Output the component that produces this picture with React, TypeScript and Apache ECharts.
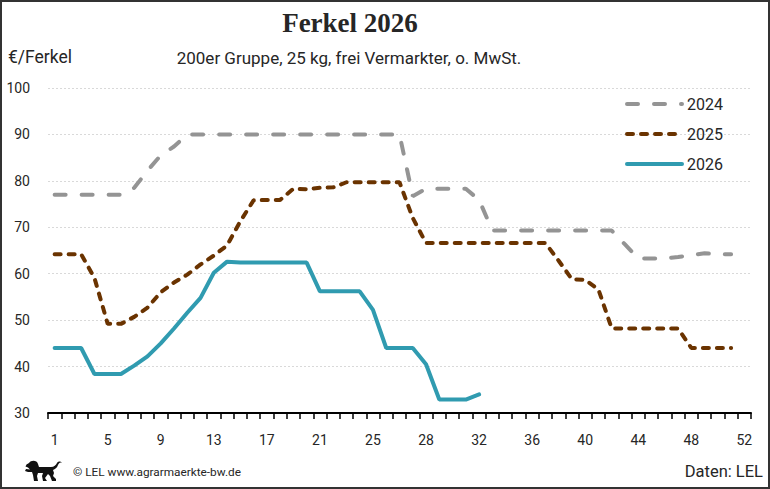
import React, { useEffect, useRef } from 'react';
import * as echarts from 'echarts';

// Categories (53 week slots on the axis)
const weeks = [
  '1','2','3','4','5','6','7','8','9','10','11','12','13','14','15','16','17','18','19','20',
  '21','22','23','24','25','26','27','28','29','30','31','32','33','34','35','36','37','38','39','40',
  '41','42','43','44','45','46','47','48','49','50','51','52','53'
];
// Tick labels shown every 4th slot
const tickLabels = ['1','5','9','13','17','21','25','28','32','36','40','44','48','52'];

const s2024 = [
  77.0, 77.0, 77.0, 77.0, 77.0, 77.0, 78.5, 82.2, 85.5, 87.4,
  90.0, 90.0, 90.0, 90.0, 90.0, 90.0, 90.0, 90.0, 90.0, 90.0,
  90.0, 90.0, 90.0, 90.0, 90.0, 90.0, 90.0, 76.7, 78.3, 78.3,
  78.3, 78.3, 75.9, 69.3, 69.3, 69.3, 69.3, 69.3, 69.3, 69.3,
  69.3, 69.3, 69.3, 66.3, 63.3, 63.3, 63.3, 63.6, 64.0, 64.4,
  64.2, 64.2
];
const s2025 = [
  64.2, 64.2, 64.2, 59.1, 49.2, 49.2, 50.7, 52.7, 56.0, 58.1,
  59.8, 62.0, 63.9, 66.1, 71.3, 75.8, 75.9, 75.9, 78.3, 78.2,
  78.5, 78.6, 79.7, 79.7, 79.7, 79.7, 79.7, 72.0, 66.6, 66.6,
  66.6, 66.6, 66.6, 66.6, 66.6, 66.6, 66.6, 66.6, 62.8, 58.8,
  58.7, 56.6, 48.2, 48.2, 48.2, 48.2, 48.2, 48.2, 44.0, 44.0,
  44.0, 44.0
];
const s2026 = [
  44.0, 44.0, 44.0, 38.4, 38.4, 38.4, 40.2, 42.2, 45.0, 48.2,
  51.6, 54.8, 60.2, 62.6, 62.4, 62.4, 62.4, 62.4, 62.4, 62.4,
  56.2, 56.2, 56.2, 56.2, 52.2, 44.0, 44.0, 44.0, 40.5, 32.9,
  32.9, 32.9, 34.0
];

const seriesNames = ['2024', '2025', '2026'];

const lionPath =
  'M 8 4 C 12 -2 24 -2 26 6 L 28 12 L 52 12 C 58 12 62 8 64 4 C 66 0 72 0 74 4 ' +
  'C 70 2 68 4 66 8 C 64 14 60 16 56 18 L 58 24 L 56 30 L 62 36 L 62 40 L 54 40 ' +
  'L 50 30 L 46 26 L 40 34 L 44 40 L 36 40 L 34 30 L 36 24 L 26 24 L 24 30 L 26 40 ' +
  'L 18 40 L 16 28 L 14 22 L 6 22 L 0 20 L 2 16 L 10 17 L 6 13 L 1 11 L 3 7 Z';

let registered = false;

export default function App() {
  const ref = useRef<HTMLDivElement>(null);

  useEffect(() => {
    document.body.style.margin = '0';
    if (!registered) {
      echarts.graphic.registerShape('logo', echarts.graphic.extendPath(lionPath, {}));
      registered = true;
    }
    const chart = echarts.init(ref.current as HTMLDivElement, null, { renderer: 'svg' });
    const sans = 'Roboto';
    const textColor = '#262626';
    chart.setOption({
      animation: false,
      backgroundColor: '#ffffff',
      grid: { left: 48, right: 19, top: 88, bottom: 76, containLabel: false },
      legend: {
        orient: 'vertical',
        left: 625,
        top: 96,
        padding: 0,
        itemWidth: 55,
        itemHeight: 14,
        itemGap: 14,
        data: seriesNames,
        itemStyle: { color: 'rgba(0,0,0,0)', borderWidth: 0, opacity: 0 },
        lineStyle: { width: 4 },
        textStyle: { fontSize: 16, fontFamily: sans, color: textColor },
      },
      xAxis: {
        type: 'category',
        data: weeks,
        boundaryGap: true,
        axisLine: { show: true, lineStyle: { color: '#000000', width: 2 } },
        axisTick: { show: true, interval: 0, length: 6, lineStyle: { color: '#000000', width: 1.5 } },
        axisLabel: {
          interval: (index: number) => index % 4 === 0,
          formatter: (_v: string, index: number) => tickLabels[Math.round(index / 4)] ?? '',
          margin: 20,
          fontSize: 14,
          fontFamily: sans,
          color: textColor,
        },
        splitLine: { show: false },
      },
      yAxis: {
        type: 'value',
        min: 30,
        max: 100,
        interval: 10,
        axisLine: { show: false },
        axisTick: { show: false },
        axisLabel: { margin: 18, fontSize: 14, fontFamily: sans, color: textColor },
        splitLine: { show: true, lineStyle: { color: '#d9d9d9', width: 1, type: [2, 2] } },
      },
      series: [
        {
          name: '2024',
          type: 'line',
          data: s2024,
          symbol: 'none',
          lineStyle: { color: '#949494', width: 4, type: [11, 16], cap: 'round' },
          itemStyle: { color: '#949494' },
          z: 2,
        },
        {
          name: '2025',
          type: 'line',
          data: s2025,
          symbol: 'none',
          lineStyle: { color: '#6a3300', width: 4, type: [6, 8], cap: 'round' },
          itemStyle: { color: '#6a3300' },
          z: 3,
        },
        {
          name: '2026',
          type: 'line',
          data: s2026,
          symbol: 'none',
          lineStyle: { color: '#309bb0', width: 4, type: 'solid', cap: 'round' },
          itemStyle: { color: '#309bb0' },
          z: 4,
        },
      ],
      graphic: [
        {
          type: 'rect',
          shape: { x: 1, y: 1, width: 768, height: 487 },
          style: { fill: 'none', stroke: '#333333', lineWidth: 2 },
          silent: true,
        },
        {
          type: 'text',
          x: 350,
          y: 23,
          style: {
            text: 'Ferkel 2026',
            fontSize: 27,
            fontWeight: 'bold',
            fontFamily: '"Liberation Serif"',
            fill: '#262626',
            align: 'center',
            verticalAlign: 'middle',
          },
        },
        {
          type: 'text',
          x: 349,
          y: 58,
          style: {
            text: '200er Gruppe, 25 kg, frei Vermarkter, o. MwSt.',
            fontSize: 17,
            fontFamily: sans,
            fill: textColor,
            align: 'center',
            verticalAlign: 'middle',
          },
        },
        {
          type: 'text',
          x: 8,
          y: 57,
          style: {
            text: '€/Ferkel',
            fontSize: 17.5,
            fontFamily: sans,
            fill: textColor,
            align: 'left',
            verticalAlign: 'middle',
          },
        },
        {
          type: 'logo',
          x: 25,
          y: 461,
          scaleX: 0.5,
          scaleY: 0.5,
          style: { fill: '#111111' },
        },
        {
          type: 'text',
          x: 73,
          y: 472,
          style: {
            text: '© LEL www.agrarmaerkte-bw.de',
            fontSize: 11.8,
            fontFamily: sans,
            fill: textColor,
            align: 'left',
            verticalAlign: 'middle',
          },
        },
        {
          type: 'text',
          x: 763,
          y: 471,
          style: {
            text: 'Daten: LEL',
            fontSize: 16.5,
            fontFamily: sans,
            fill: textColor,
            align: 'right',
            verticalAlign: 'middle',
          },
        },
      ],
    });
    return () => chart.dispose();
  }, []);

  return <div ref={ref} style={{ width: 770, height: 489 }} />;
}
